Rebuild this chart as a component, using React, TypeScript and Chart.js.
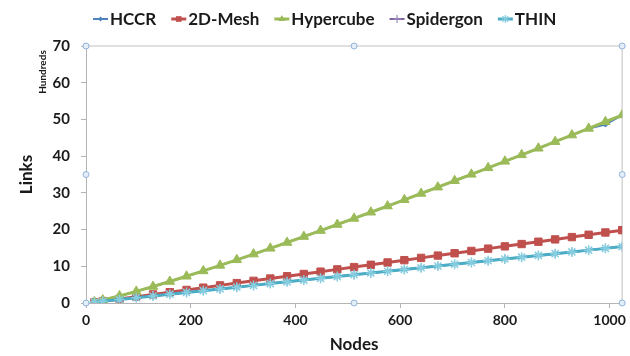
import React, { useEffect, useRef } from 'react';
import { Chart, registerables } from 'chart.js';

Chart.register(...registerables);

// ---- data (values in hundreds of links) ----
const NODES = [16, 32, 64, 96, 128, 160, 192, 224, 256, 288, 320, 352, 384, 416, 448, 480, 512, 544, 576, 608, 640, 672, 704, 736, 768, 800, 832, 864, 896, 928, 960, 992, 1024];

const HYPERCUBE = [0.32, 0.8, 1.92, 3.16, 4.48, 5.86, 7.28, 8.74, 10.24, 11.76, 13.32, 14.89, 16.48, 18.1, 19.73, 21.38, 23.04, 24.72, 26.41, 28.11, 29.83, 31.56, 33.3, 35.05, 36.81, 38.58, 40.35, 42.14, 43.94, 45.74, 47.55, 49.37, 51.2];

const HCCR = [0.32, 0.8, 1.92, 3.16, 4.48, 5.86, 7.28, 8.74, 10.24, 11.76, 13.32, 14.89, 16.48, 18.1, 19.73, 21.38, 23.04, 24.72, 26.41, 28.11, 29.83, 31.56, 33.3, 35.05, 36.81, 38.58, 40.35, 42.14, 43.94, 45.74, 47.55, 48.6, 51.2];

const MESH_2D = [0.24, 0.53, 1.12, 1.72, 2.33, 2.95, 3.56, 4.18, 4.8, 5.42, 6.04, 6.66, 7.29, 7.91, 8.54, 9.16, 9.79, 10.41, 11.04, 11.67, 12.29, 12.92, 13.55, 14.18, 14.81, 15.43, 16.06, 16.69, 17.32, 17.95, 18.58, 19.21, 19.84];

const SPIDERGON = [0.24, 0.48, 0.96, 1.44, 1.92, 2.4, 2.88, 3.36, 3.84, 4.32, 4.8, 5.28, 5.76, 6.24, 6.72, 7.2, 7.68, 8.16, 8.64, 9.12, 9.6, 10.08, 10.56, 11.04, 11.52, 12.0, 12.48, 12.96, 13.44, 13.92, 14.4, 14.88, 15.36];

const THIN = [0.24, 0.48, 0.96, 1.44, 1.92, 2.4, 2.88, 3.36, 3.84, 4.32, 4.8, 5.28, 5.76, 6.24, 6.72, 7.2, 7.68, 8.16, 8.64, 9.12, 9.6, 10.08, 10.56, 11.04, 11.52, 12.0, 12.48, 12.96, 13.44, 13.92, 14.4, 14.88, 15.36];

const SERIES_NAMES = ['HCCR', '2D-Mesh', 'Hypercube', 'Spidergon', 'THIN'];
const SERIES_VALUES = [HCCR, MESH_2D, HYPERCUBE, SPIDERGON, THIN];

const X_TICKS = [0, 200, 400, 600, 800, 1000];
const X_MAX = 1024;
const Y_TICKS = [0, 10, 20, 30, 40, 50, 60, 70];
const Y_MAX = 70;

const X_TITLE = 'Nodes';
const Y_TITLE = 'Links';
const DISPLAY_UNIT = 'Hundreds';

// ---- styles ----
const STYLES = [
  { color: '#4F81BD', marker: '#4F81BD', pointStyle: 'rectRot', radius: 2.5, width: 2 },
  { color: '#C0504D', marker: '#C0504D', pointStyle: 'rect', radius: 5.2, width: 3 },
  { color: '#9BBB59', marker: '#9BBB59', pointStyle: 'triangle', radius: 5.5, width: 3 },
  { color: '#8064A2', marker: '#A08CC0', pointStyle: 'cross', radius: 4, width: 2 },
  { color: '#4BACC6', marker: '#86CDE0', pointStyle: 'star', radius: 5, width: 3 },
];

const FONT = 'Lato, "Open Sans", sans-serif';
const AXIS_GREY = '#B4B4B4';
const TEXT = '#1A1A1A';

function drawMarker(ctx: CanvasRenderingContext2D, style: string, x: number, y: number, r: number, color: string) {
  ctx.save();
  ctx.fillStyle = color;
  ctx.strokeStyle = color;
  ctx.lineWidth = 1.2;
  ctx.beginPath();
  if (style === 'rect') {
    const s = r * Math.SQRT1_2;
    ctx.rect(x - s, y - s, 2 * s, 2 * s);
    ctx.fill();
  } else if (style === 'rectRot') {
    ctx.moveTo(x, y - r);
    ctx.lineTo(x + r, y);
    ctx.lineTo(x, y + r);
    ctx.lineTo(x - r, y);
    ctx.closePath();
    ctx.fill();
  } else if (style === 'triangle') {
    const h = r * 1.5;
    ctx.moveTo(x, y - r);
    ctx.lineTo(x + r * 0.87, y + h - r);
    ctx.lineTo(x - r * 0.87, y + h - r);
    ctx.closePath();
    ctx.fill();
  } else if (style === 'cross') {
    ctx.moveTo(x - r, y); ctx.lineTo(x + r, y);
    ctx.moveTo(x, y - r); ctx.lineTo(x, y + r);
    ctx.stroke();
  } else if (style === 'star') {
    ctx.moveTo(x - r, y); ctx.lineTo(x + r, y);
    ctx.moveTo(x, y - r); ctx.lineTo(x, y + r);
    const d = r * Math.SQRT1_2;
    ctx.moveTo(x - d, y - d); ctx.lineTo(x + d, y + d);
    ctx.moveTo(x - d, y + d); ctx.lineTo(x + d, y - d);
    ctx.stroke();
  }
  ctx.restore();
}

const decorPlugin = {
  id: 'decor',
  beforeDatasetsDraw(chart: any) {
    const { ctx, chartArea: a } = chart;
    ctx.save();
    ctx.strokeStyle = '#D6D6D6';
    ctx.lineWidth = 1.5;
    ctx.beginPath();
    ctx.moveTo(a.left, a.top);
    ctx.lineTo(a.right, a.top);
    ctx.lineTo(a.right, a.bottom);
    ctx.stroke();
    ctx.restore();
  },
  afterDraw(chart: any) {
    const { ctx, chartArea: a } = chart;
    ctx.save();
    // display unit label
    ctx.save();
    ctx.translate(a.left - 43, a.top + 26);
    ctx.rotate(-Math.PI / 2);
    ctx.font = `bold 10px ${FONT}`;
    ctx.fillStyle = TEXT;
    ctx.textAlign = 'center';
    ctx.textBaseline = 'middle';
    ctx.fillText(DISPLAY_UNIT, 0, 0);
    ctx.restore();

    // selection handles
    const midX = (a.left + a.right) / 2;
    const midY = (a.top + a.bottom) / 2;
    const handles = [
      [a.left, a.top], [midX, a.top], [a.right, a.top],
      [a.left, midY], [a.right, midY],
      [a.left, a.bottom], [midX, a.bottom], [a.right, a.bottom],
    ];
    handles.forEach(([hx, hy]) => {
      ctx.beginPath();
      ctx.arc(hx, hy, 3, 0, Math.PI * 2);
      ctx.fillStyle = '#E4EEF8';
      ctx.fill();
      ctx.lineWidth = 1;
      ctx.strokeStyle = '#8FB3DA';
      ctx.stroke();
    });

    // legend
    ctx.font = `bold 17px ${FONT}`;
    ctx.textBaseline = 'middle';
    ctx.textAlign = 'left';
    let x = 93;
    const y = 19;
    SERIES_NAMES.forEach((name, i) => {
      const st = STYLES[i];
      ctx.strokeStyle = st.color;
      ctx.lineWidth = st.width;
      ctx.beginPath();
      ctx.moveTo(x, y);
      ctx.lineTo(x + 15, y);
      ctx.stroke();
      drawMarker(ctx, st.pointStyle, x + 7.5, y, Math.min(st.radius, 4), st.marker);
      ctx.fillStyle = TEXT;
      ctx.fillText(name, x + 17, y + 1);
      x += 17 + ctx.measureText(name).width + 15;
    });
    ctx.restore();
  },
};

export default function App() {
  const ref = useRef<HTMLCanvasElement>(null);

  useEffect(() => {
    document.body.style.margin = '0';
    const canvas = ref.current;
    if (!canvas) return;

    const datasets = SERIES_NAMES.map((name, i) => ({
      label: name,
      data: NODES.map((n, j) => ({ x: n, y: SERIES_VALUES[i][j] })),
      borderColor: STYLES[i].color,
      backgroundColor: STYLES[i].marker,
      borderWidth: STYLES[i].width,
      pointStyle: STYLES[i].pointStyle as any,
      pointRadius: STYLES[i].radius,
      pointBackgroundColor: STYLES[i].marker,
      pointBorderColor: STYLES[i].marker,
      pointBorderWidth: STYLES[i].pointStyle === 'star' ? 1.5 : 1,
      tension: 0,
      fill: false,
      order: SERIES_NAMES.length - i,
    }));

    const chart = new Chart(canvas, {
      type: 'line',
      data: { datasets },
      options: {
        animation: false,
        responsive: false,
        events: [],
        layout: { padding: { top: 46, right: 7, left: 0, bottom: 0 } },
        plugins: {
          legend: { display: false },
          tooltip: { enabled: false },
        },
        scales: {
          x: {
            type: 'linear',
            min: 0,
            max: X_MAX,
            afterBuildTicks: (s: any) => { s.ticks = X_TICKS.map((v) => ({ value: v })); },
            afterFit: (s: any) => { s.height = 53; },
            ticks: {
              font: { family: FONT, size: 14, weight: 'bold' },
              color: TEXT,
              padding: 4,
              maxRotation: 0,
              autoSkip: false,
              callback: (v: any) => String(v),
            },
            grid: { drawOnChartArea: false, drawTicks: true, tickLength: 5, color: AXIS_GREY },
            border: { display: true, color: AXIS_GREY, width: 1 },
            title: {
              display: true,
              text: X_TITLE,
              font: { family: FONT, size: 17, weight: 'bold' },
              color: TEXT,
              padding: { top: 0, bottom: 1 },
            },
          },
          y: {
            type: 'linear',
            min: 0,
            max: Y_MAX,
            afterBuildTicks: (s: any) => { s.ticks = Y_TICKS.map((v) => ({ value: v })); },
            afterFit: (s: any) => { s.width = 86; },
            ticks: {
              font: { family: FONT, size: 15, weight: 'bold' },
              color: TEXT,
              padding: 11,
              autoSkip: false,
              callback: (v: any) => String(v),
            },
            grid: { drawOnChartArea: false, drawTicks: true, tickLength: 5, color: AXIS_GREY },
            border: { display: true, color: AXIS_GREY, width: 1 },
            title: {
              display: true,
              text: Y_TITLE,
              font: { family: FONT, size: 17, weight: 'bold' },
              color: TEXT,
              padding: { top: 16, bottom: 0 },
            },
          },
        },
      },
      plugins: [decorPlugin],
    });

    return () => chart.destroy();
  }, []);

  return (
    <div style={{ width: 630, height: 356, background: '#FFFFFF' }}>
      <canvas ref={ref} width={630} height={356} style={{ display: 'block', width: 630, height: 356 }} />
    </div>
  );
}
